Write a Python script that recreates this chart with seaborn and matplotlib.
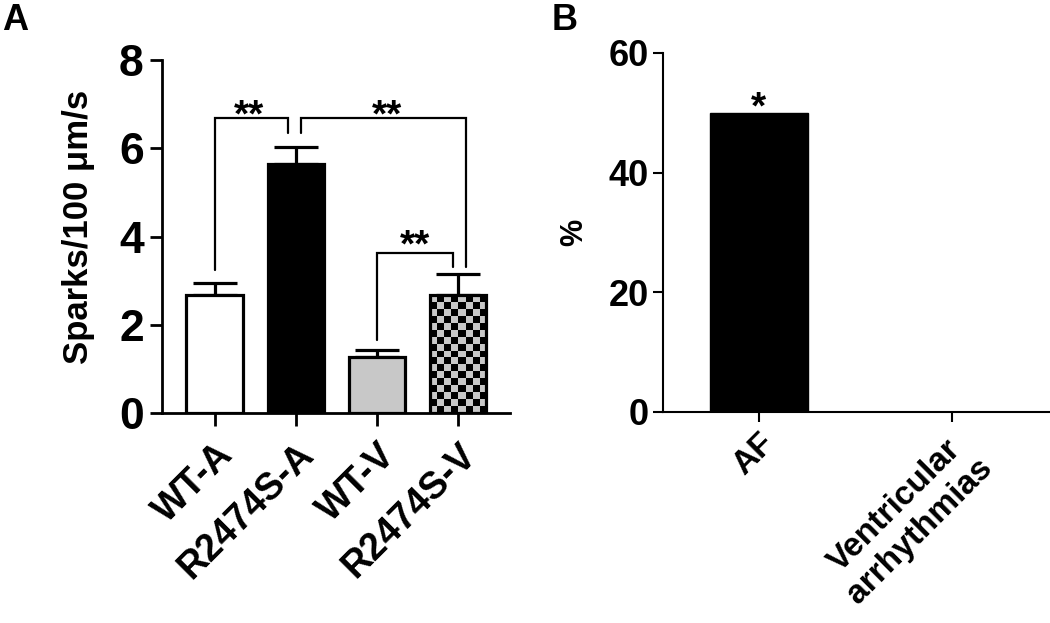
import numpy as np
import pandas as pd
import matplotlib
matplotlib.use('Agg')
import matplotlib.pyplot as plt
import seaborn as sns

# panel A data
groups_a = ['WT-A', 'R2474S-A', 'WT-V', 'R2474S-V']
sparks_mean = [2.67, 5.64, 1.27, 2.67]
sparks_sem = [0.27, 0.39, 0.16, 0.48]
colors_a = ['white', 'black', '#c8c8c8', '#c8c8c8']

# panel B data
groups_b = ['AF', 'Ventricular\narrhythmias']
pct = [50, 0]

sns.set_style('ticks')
plt.rcParams['font.family'] = ['Liberation Sans', 'DejaVu Sans']
plt.rcParams['font.weight'] = 'bold'
for key in ['text.color', 'axes.labelcolor', 'xtick.color', 'ytick.color', 'axes.edgecolor']:
    plt.rcParams[key] = 'black'

fig = plt.figure(figsize=(10.5, 6.23), dpi=100)
ax1 = fig.add_axes([0.154, 0.337, 0.332, 0.5663])
ax2 = fig.add_axes([0.631, 0.3387, 0.369, 0.5763])

# ---- panel A
df_a = pd.DataFrame({'group': groups_a, 'value': sparks_mean})
sns.barplot(data=df_a, x='group', y='value', hue='group', palette=colors_a,
            dodge=False, legend=False, width=0.69, edgecolor='black',
            linewidth=2.3, errorbar=None, ax=ax1)
ax1.errorbar(np.arange(len(groups_a)), sparks_mean,
             yerr=[np.zeros(len(groups_a)), sparks_sem], fmt='none',
             ecolor='black', elinewidth=2.3, capsize=16, capthick=2.3, zorder=0.5)
ax1.set_xlim(-0.65, 3.64)
ax1.set_ylim(0, 8)
ax1.set_yticks([0, 2, 4, 6, 8])

# checkerboard fill for last bar
chk = ax1.patches[3]
chk.set_facecolor('none')
chk.set_zorder(2)
x0, y0 = chk.get_x(), chk.get_y()
w, h = chk.get_width(), chk.get_height()
p0 = ax1.transData.transform((x0, y0))
p1 = ax1.transData.transform((x0 + w, y0 + h))
nx = 8
ny = int(round(nx * (p1[1] - p0[1]) / (p1[0] - p0[0])))
board = (np.indices((ny, nx)).sum(axis=0) % 2).astype(float)
im = ax1.imshow(board, cmap=matplotlib.colors.ListedColormap(['#c8c8c8', 'black']),
                extent=(x0, x0 + w, y0, y0 + h), aspect='auto',
                interpolation='nearest', zorder=1.5)
im.set_clip_path(chk)
ax1.set_xlim(-0.65, 3.64)
ax1.set_ylim(0, 8)

# significance brackets
def bracket(ax, xl, xr, yl, yr, ytop, tx, ty, text='**'):
    ax.plot([xl, xl, xr, xr], [yl, ytop, ytop, yr], color='black', lw=1.6,
            solid_joinstyle='miter', clip_on=False)
    ax.text(tx, ty, text, ha='center', va='center', fontsize=28, fontweight='bold')

bracket(ax1, 0, 0.9, 3.24, 6.35, 6.69, 0.43, 6.72)
bracket(ax1, 1.07, 3.1, 6.35, 3.31, 6.69, 2.12, 6.72)
bracket(ax1, 2.0, 2.93, 1.66, 3.31, 3.62, 2.47, 3.78)

ax1.set_xlabel('')
ax1.set_ylabel('Sparks/100 \u03bcm/s', fontsize=25, fontweight='bold')
ax1.yaxis.set_label_coords(-0.19, 0.527)
ax1.tick_params(axis='y', labelsize=32, width=2, length=9, pad=4)
ax1.tick_params(axis='x', labelsize=27, width=2, length=9, pad=8)
for lab in ax1.get_yticklabels():
    lab.set_fontweight('bold')
ax1.set_xticks(range(len(groups_a)))
ax1.set_xticklabels(groups_a, rotation=45, ha='right', rotation_mode='anchor',
                    fontweight='bold')
for s in ['left', 'bottom']:
    ax1.spines[s].set_linewidth(2)
sns.despine(ax=ax1)

# ---- panel B
df_b = pd.DataFrame({'group': groups_b, 'value': pct})
sns.barplot(data=df_b, x='group', y='value', color='black', width=0.51,
            edgecolor='black', errorbar=None, ax=ax2)
ax2.set_xlim(-0.5, 1.51)
ax2.set_ylim(0, 60)
ax2.set_yticks([0, 20, 40, 60])
ax2.text(0, pct[0] + 0.8, '*', ha='center', va='center', fontsize=28, fontweight='bold')
ax2.set_xlabel('')
ax2.set_ylabel('%', fontsize=22, fontweight='bold', labelpad=14)
ax2.tick_params(axis='y', labelsize=26, width=1.5, length=7, pad=3)
ax2.tick_params(axis='x', labelsize=24, width=1.5, length=7, pad=4)
for lab in ax2.get_yticklabels():
    lab.set_fontweight('bold')
ax2.set_xticks(range(len(groups_b)))
ax2.set_xticklabels(groups_b, rotation=45, ha='right', rotation_mode='anchor',
                    multialignment='center', fontweight='bold')
for s in ['left', 'bottom']:
    ax2.spines[s].set_linewidth(1.5)
sns.despine(ax=ax2)

fig.text(0.002, 0.995, 'A', fontsize=26, fontweight='bold', va='top', ha='left')
fig.text(0.525, 0.995, 'B', fontsize=26, fontweight='bold', va='top', ha='left')

fig.savefig('out.png', dpi=100)
